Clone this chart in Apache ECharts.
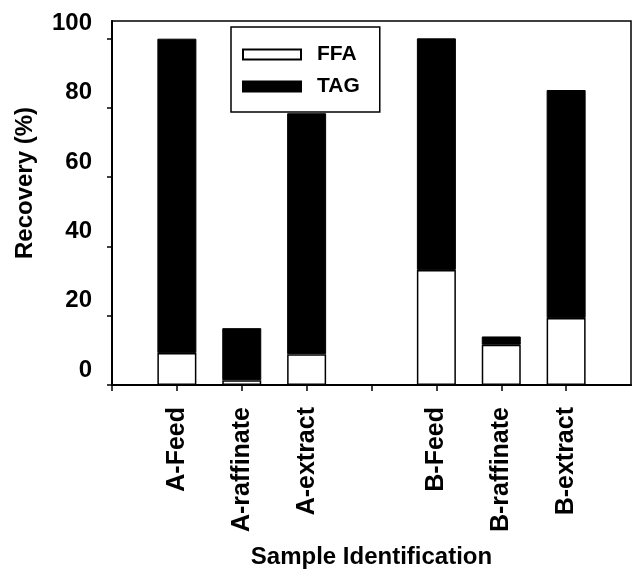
<!DOCTYPE html>
<html>
<head>
<meta charset="utf-8">
<script src="https://cdn.jsdelivr.net/npm/echarts@6/dist/echarts.min.js"></script>
<style>html,body{margin:0;padding:0;background:#fff}#c{width:632px;height:574px}</style>
</head>
<body>
<div id="c"></div>
<script>
const categories = ['', 'A-Feed', 'A-raffinate', 'A-extract', '', 'B-Feed', 'B-raffinate', 'B-extract', ''];
const ffaValues = [null, 9.2, 1.4, 8.9, null, 33.2, 11.6, 19.3, null];
const tagValues = [null, 90.7, 15.0, 69.5, null, 66.8, 2.4, 65.8, null];
const yTicks = [0, 20, 40, 60, 80, 100];

const FONT = '"Liberation Sans", Arial, Helvetica, sans-serif';
const chart = echarts.init(document.getElementById('c'), null, {renderer: 'canvas'});
chart.setOption({
  animation: false,
  backgroundColor: '#fff',
  grid: {left: 112, right: 1, top: 21, bottom: 188, show: true, borderColor: '#000', borderWidth: 1.5, containLabel: false},
  legend: {
    orient: 'vertical', left: 231, top: 27,
    itemWidth: 58, itemHeight: 10, itemGap: 11,
    padding: [17, 20, 15, 11],
    borderColor: '#000', borderWidth: 1.5, backgroundColor: '#fff',
    icon: 'rect',
    textStyle: {fontFamily: FONT, fontWeight: 'bold', fontSize: 21, color: '#000', padding: [0, 0, 0, 11]},
    data: ['FFA', 'TAG']
  },
  xAxis: {
    type: 'category', data: categories, boundaryGap: false,
    axisLine: {lineStyle: {color: '#000', width: 2}},
    axisTick: {length: 6, lineStyle: {color: '#000', width: 1.5}, interval: (i) => i < 8},
    axisLabel: {interval: 0, rotate: 90, margin: 22, fontFamily: FONT, fontWeight: 'bold', fontSize: 25, color: '#000'},
    splitLine: {show: false},
    name: 'Sample Identification', nameLocation: 'middle', nameGap: 160,
    nameTextStyle: {fontFamily: FONT, fontWeight: 'bold', fontSize: 24, color: '#000'}
  },
  yAxis: {
    type: 'value', min: 0, max: 105,
    axisLine: {show: true, lineStyle: {color: '#000', width: 2}},
    axisTick: {show: true, length: 5, lineStyle: {color: '#000', width: 1.5}, customValues: yTicks},
    axisLabel: {margin: 20, fontFamily: FONT, fontWeight: 'bold', fontSize: 24, color: '#000', customValues: yTicks, verticalAlign: 'bottom', lineHeight: 30},
    splitLine: {show: false},
    name: 'Recovery (%)', nameLocation: 'middle', nameGap: 75, nameRotate: 90,
    nameTextStyle: {fontFamily: FONT, fontWeight: 'bold', fontSize: 24, color: '#000', padding: [0, 0, 0, 40]}
  },
  series: [
    {name: 'FFA', type: 'bar', stack: 'r', barWidth: 39, data: ffaValues,
     itemStyle: {color: '#fff', borderColor: '#000', borderWidth: 1.5}},
    {name: 'TAG', type: 'bar', stack: 'r', barWidth: 39, data: tagValues,
     itemStyle: {color: '#000', borderColor: '#000', borderWidth: 1}}
  ]
});
</script>
</body>
</html>
